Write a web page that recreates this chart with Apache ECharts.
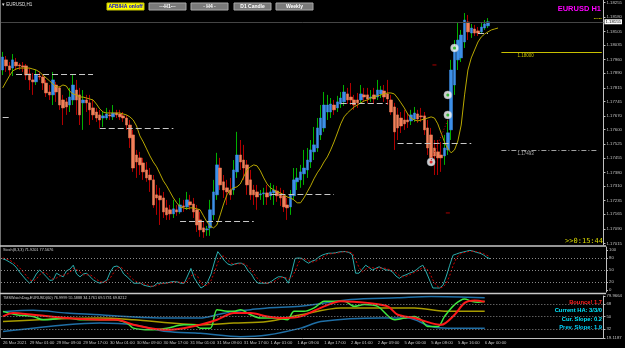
<!DOCTYPE html>
<html>
<head>
<meta charset="utf-8">
<script src="https://cdn.jsdelivr.net/npm/echarts@6/dist/echarts.min.js"></script>
<style>html,body{margin:0;padding:0;background:#000}#chart{width:625px;height:348px}</style>
</head>
<body>
<div id="chart"></div>
<script>
// EURUSD H1, one entry per hourly bar (26 Mar 17:00 .. 6 Apr 01:00)
var barOpen = [
  1.17907,1.17959,1.17928,1.17917,1.17948,1.17933,1.17928,1.17928,1.17887,1.17856,
  1.17846,1.17876,1.17871,1.17840,1.17794,1.17779,1.17830,1.17815,1.17753,1.17743,
  1.17727,1.17753,1.17804,1.17779,1.17738,1.17753,1.17738,1.17712,1.17691,1.17676,
  1.17660,1.17660,1.17676,1.17666,1.17686,1.17681,1.17671,1.17660,1.17624,1.17573,
  1.17470,1.17455,1.17429,1.17393,1.17367,1.17342,1.17265,1.17260,1.17249,1.17198,
  1.17188,1.17167,1.17188,1.17177,1.17208,1.17203,1.17229,1.17218,1.17188,1.17136,
  1.17095,1.17085,1.17095,1.17162,1.17265,1.17403,1.17332,1.17301,1.17290,1.17290,
  1.17383,1.17470,1.17444,1.17419,1.17342,1.17290,1.17280,1.17265,1.17270,1.17275,
  1.17260,1.17275,1.17285,1.17270,1.17260,1.17213,1.17203,1.17260,1.17332,1.17342,
  1.17373,1.17393,1.17434,1.17486,1.17506,1.17573,1.17609,1.17691,1.17691,1.17727,
  1.17712,1.17732,1.17743,1.17784,1.17768,1.17753,1.17753,1.17753,1.17779,1.17779,
  1.17763,1.17779,1.17768,1.17784,1.17799,1.17784,1.17753,1.17717,1.17676,1.17660,
  1.17650,1.17650,1.17645,1.17655,1.17681,1.17671,1.17671,1.17609,1.17573,1.17506,
  1.17486,1.17470,1.17465,1.17496,1.17599,1.17830,1.17959,1.17969,1.18051,1.18154,
  1.18097,1.18118,1.18108,1.18103,1.18123,1.18134
];
var barClose = [
  1.17974,1.17928,1.17907,1.17959,1.17928,1.17928,1.17923,1.17881,1.17856,1.17846,
  1.17881,1.17871,1.17840,1.17789,1.17779,1.17856,1.17794,1.17727,1.17712,1.17717,
  1.17768,1.17830,1.17753,1.17676,1.17753,1.17738,1.17702,1.17676,1.17660,1.17650,
  1.17671,1.17681,1.17671,1.17686,1.17676,1.17666,1.17660,1.17624,1.17558,1.17403,
  1.17434,1.17419,1.17383,1.17352,1.17342,1.17213,1.17249,1.17239,1.17177,1.17162,
  1.17167,1.17193,1.17177,1.17213,1.17203,1.17239,1.17213,1.17177,1.17110,1.17085,
  1.17074,1.17090,1.17188,1.17280,1.17419,1.17316,1.17290,1.17280,1.17265,1.17393,
  1.17470,1.17434,1.17403,1.17316,1.17265,1.17265,1.17254,1.17270,1.17275,1.17254,
  1.17280,1.17290,1.17260,1.17249,1.17203,1.17198,1.17265,1.17342,1.17352,1.17383,
  1.17403,1.17444,1.17496,1.17522,1.17609,1.17660,1.17727,1.17727,1.17732,1.17702,
  1.17743,1.17763,1.17794,1.17753,1.17753,1.17727,1.17738,1.17784,1.17768,1.17758,
  1.17768,1.17758,1.17804,1.17804,1.17768,1.17758,1.17691,1.17589,1.17609,1.17619,
  1.17630,1.17640,1.17676,1.17686,1.17655,1.17666,1.17599,1.17506,1.17455,1.17465,
  1.17455,1.17455,1.17506,1.17584,1.17907,1.18010,1.18061,1.18087,1.18164,1.18103,
  1.18123,1.18097,1.18097,1.18128,1.18144,1.18155
];
var barHigh = [
  1.18000,1.17979,1.17948,1.17989,1.17969,1.17943,1.17948,1.17938,1.17917,1.17892,
  1.17907,1.17897,1.17881,1.17856,1.17830,1.17897,1.17846,1.17825,1.17779,1.17763,
  1.17815,1.17881,1.17856,1.17815,1.17804,1.17779,1.17779,1.17753,1.17712,1.17702,
  1.17691,1.17712,1.17702,1.17727,1.17702,1.17702,1.17691,1.17676,1.17650,1.17599,
  1.17496,1.17486,1.17455,1.17434,1.17403,1.17367,1.17316,1.17301,1.17280,1.17239,
  1.17213,1.17239,1.17213,1.17249,1.17239,1.17280,1.17265,1.17249,1.17213,1.17177,
  1.17126,1.17105,1.17239,1.17342,1.17481,1.17455,1.17367,1.17342,1.17352,1.17444,
  1.17589,1.17547,1.17522,1.17444,1.17393,1.17316,1.17316,1.17290,1.17301,1.17316,
  1.17326,1.17316,1.17311,1.17301,1.17290,1.17249,1.17290,1.17403,1.17403,1.17419,
  1.17496,1.17506,1.17547,1.17614,1.17660,1.17727,1.17794,1.17779,1.17763,1.17753,
  1.17774,1.17794,1.17830,1.17815,1.17840,1.17779,1.17789,1.17830,1.17815,1.17815,
  1.17804,1.17815,1.17856,1.17825,1.17830,1.17856,1.17779,1.17738,1.17712,1.17691,
  1.17702,1.17686,1.17702,1.17717,1.17702,1.17712,1.17691,1.17650,1.17609,1.17547,
  1.17547,1.17537,1.17573,1.17650,1.17959,1.18061,1.18149,1.18113,1.18200,1.18190,
  1.18144,1.18139,1.18128,1.18149,1.18164,1.18174
];
var barLow = [
  1.17881,1.17897,1.17881,1.17876,1.17907,1.17907,1.17897,1.17856,1.17804,1.17779,
  1.17830,1.17856,1.17804,1.17768,1.17753,1.17727,1.17743,1.17702,1.17624,1.17676,
  1.17691,1.17727,1.17676,1.17624,1.17599,1.17691,1.17624,1.17650,1.17640,1.17609,
  1.17614,1.17650,1.17650,1.17650,1.17660,1.17650,1.17640,1.17599,1.17506,1.17383,
  1.17352,1.17367,1.17342,1.17332,1.17280,1.17198,1.17162,1.17110,1.17146,1.17136,
  1.17136,1.17146,1.17157,1.17167,1.17177,1.17188,1.17188,1.17146,1.17074,1.17049,
  1.17044,1.17054,1.17054,1.17136,1.17239,1.17290,1.17249,1.17213,1.17239,1.17265,
  1.17352,1.17393,1.17342,1.17265,1.17239,1.17213,1.17188,1.17239,1.17213,1.17213,
  1.17239,1.17213,1.17229,1.17208,1.17177,1.17136,1.17162,1.17239,1.17290,1.17301,
  1.17316,1.17352,1.17403,1.17444,1.17486,1.17547,1.17589,1.17650,1.17660,1.17676,
  1.17691,1.17712,1.17722,1.17732,1.17727,1.17702,1.17712,1.17732,1.17743,1.17738,
  1.17743,1.17732,1.17753,1.17763,1.17743,1.17727,1.17676,1.17496,1.17547,1.17583,
  1.17599,1.17609,1.17624,1.17640,1.17635,1.17640,1.17573,1.17470,1.17434,1.17367,
  1.17367,1.17383,1.17419,1.17470,1.17547,1.17779,1.17907,1.17948,1.18020,1.18061,
  1.18072,1.18082,1.18082,1.18092,1.18113,1.18123
];
// moving average (drawn shifted a few bars forward, as on the chart)
var maLine = [
  1.17815,1.17846,1.17876,1.17902,1.17912,1.17917,1.17917,1.17917,1.17917,1.17912,
  1.17907,1.17897,1.17881,1.17866,1.17851,1.17835,1.17820,1.17820,1.17830,1.17825,
  1.17799,1.17784,1.17779,1.17768,1.17768,1.17763,1.17758,1.17753,1.17732,1.17707,
  1.17691,1.17686,1.17686,1.17686,1.17686,1.17686,1.17681,1.17676,1.17666,1.17650,
  1.17619,1.17568,1.17537,1.17501,1.17465,1.17434,1.17409,1.17373,1.17337,1.17311,
  1.17280,1.17249,1.17224,1.17203,1.17198,1.17193,1.17198,1.17198,1.17193,1.17188,
  1.17157,1.17126,1.17105,1.17095,1.17110,1.17162,1.17218,1.17265,1.17290,1.17301,
  1.17306,1.17321,1.17357,1.17393,1.17409,1.17419,1.17414,1.17388,1.17352,1.17321,
  1.17301,1.17290,1.17280,1.17275,1.17265,1.17254,1.17249,1.17239,1.17224,1.17224,
  1.17249,1.17280,1.17311,1.17347,1.17378,1.17403,1.17434,1.17460,1.17496,1.17537,
  1.17583,1.17630,1.17666,1.17686,1.17702,1.17717,1.17727,1.17738,1.17748,1.17753,
  1.17763,1.17768,1.17774,1.17779,1.17784,1.17789,1.17789,1.17784,1.17763,1.17738,
  1.17712,1.17681,1.17660,1.17650,1.17645,1.17650,1.17655,1.17660,1.17666,1.17660,
  1.17630,1.17583,1.17537,1.17501,1.17481,1.17496,1.17542,1.17624,1.17779,1.17907,
  1.17969,1.18010,1.18051,1.18077,1.18092,1.18103,1.18113,1.18118,1.18123
];
// dashed level segments: price, first bar, last bar
var levelPrices = [1.17666, 1.17887, 1.17609, 1.17131, 1.17270, 1.17738, 1.17532, 1.18097];
var levelFrom   = [0, 4, 29, 53, 80, 101, 118, 142];
var levelTo     = [2, 27, 51, 75, 99, 115, 140, 145];
// lines projected right of the last bar
var targetHigh = 1.18000;
var targetLow  = 1.17493;
// signal markers
var signalBars   = [128, 133, 133, 135];
var signalPrices = [1.17434, 1.17676, 1.17779, 1.18020];
var signalColors = ['#e00000', '#10b010', '#10b010', '#10b010'];
var fractalBars   = [129, 133];
var fractalPrices = [1.17933, 1.17172];

var priceTicks = [1.17015,1.17090,1.17165,1.17235,1.17310,1.17380,1.17455,1.17525,1.17600,
  1.17670,1.17745,1.17815,1.17890,1.17960,1.18035,1.18105,1.18180,1.18255];
var timeLabels = ['26 Mar 2021','29 Mar 01:00','29 Mar 09:00','29 Mar 17:00','30 Mar 01:00',
  '30 Mar 09:00','30 Mar 17:00','31 Mar 01:00','31 Mar 09:00','31 Mar 17:00','1 Apr 01:00',
  '1 Apr 09:00','1 Apr 17:00','2 Apr 01:00','2 Apr 09:00','5 Apr 00:00','5 Apr 08:00',
  '5 Apr 16:00','6 Apr 00:00'];

// Stoch(8,3,3)
var stochMain = [
  78,75,70,65,57,45,35,25,17,25, 40,50,42,33,24,25,42,37,33,48,
  52,62,40,33,40,42,33,25,20,17, 20,25,45,58,60,55,40,33,25,17,
  17,17,12,10,8,10,17,17,17,18, 20,21,20,17,17,35,54,30,17,5,
  10,21,40,70,96,85,73,65,62,65, 67,67,62,48,40,25,17,17,17,17,
  22,28,33,33,30,17,45,79,80,79, 72,67,72,75,82,87,90,92,92,93,
  95,96,96,94,88,42,42,52,62,56, 50,54,58,54,50,50,45,35,29,35,
  38,42,45,50,57,62,45,25,5,5, 5,12,35,62,87,90,93,95,97,99,
  97,94,92,88,82,78
];
var stochSignal = [
  80,78,75,70,64,56,46,36,26,22, 27,38,44,42,33,27,30,35,37,39,
  44,54,51,45,38,38,38,33,26,21, 19,21,30,43,54,58,52,43,33,25,
  20,17,15,13,10,9,12,15,17,17, 18,20,20,19,18,23,35,40,34,17,
  11,12,24,44,69,84,85,74,67,64, 65,66,65,59,50,38,27,20,17,17,
  19,22,28,31,32,27,31,47,68,79, 77,73,70,71,76,81,86,90,91,92,
  93,95,96,95,93,75,57,45,52,57, 56,53,54,55,54,51,48,43,36,33,
  34,38,42,46,51,56,55,44,25,12, 5,7,17,36,61,80,90,93,95,97,
  97,96,94,91,87,83
];

// TMSWatchDog lines, [bar, value]
var wdUpper = [[0,57.2],[9,59.2],[19,55.3],[29,52.8],[39,49.5],[49,48.0],[59,48.0],[64,52.8],
  [69,57.7],[74,60.2],[79,62.7],[89,65.0],[104,74.8],[118,77.3],[128,79.2],[144,77.3]];
var wdLower = [[0,28.4],[19,38.2],[29,40.7],[39,38.2],[49,28.4],[59,26.0],[71,21.1],[79,23.5],
  [89,33.4],[95,43.0],[113,48.0],[121,48.0],[128,35.7],[133,33.4],[144,33.4]];
var wdMid = [[0,43.0],[29,48.0],[39,45.5],[59,38.2],[69,40.7],[79,43.0],[89,52.8],[101,62.7],
  [113,62.7],[123,62.7],[133,57.7],[144,57.7]];
var wdFast = [[0,57.7],[4,52.8],[9,50.4],[12,45.5],[19,48.0],[24,45.5],[29,45.5],[33,45.5],
  [37,40.7],[39,33.4],[44,30.9],[49,33.4],[54,38.2],[57,38.2],[59,33.4],[62,33.4],[64,60.2],
  [67,57.7],[69,57.7],[71,60.2],[74,52.8],[77,48.0],[82,48.0],[85,45.5],[87,57.7],[90,57.7],
  [93,62.7],[95,70.0],[96,72.4],[102,72.4],[105,65.0],[108,67.5],[112,65.0],[117,45.5],
  [120,48.0],[123,50.4],[125,45.5],[127,35.7],[130,35.7],[132,50.4],[135,67.5],[138,75.8],
  [140,72.4],[142,70.9],[144,72.4]];
var wdSlow = [[0,50.4],[3,55.3],[9,52.8],[19,48.0],[29,45.5],[34,45.5],[39,38.2],[44,33.4],
  [49,30.9],[54,33.4],[59,38.2],[64,45.5],[69,55.3],[74,55.3],[79,50.4],[84,48.0],[89,50.4],
  [96,65.0],[101,72.4],[109,70.0],[115,65.0],[118,52.8],[123,48.0],[128,40.7],[131,38.2],
  [135,52.8],[138,70.0],[141,73.4],[144,71.5]];

var SLOTS = 180;
var categories = [];
for (var i = 0; i < SLOTS; i++) {
  categories.push(i % 8 === 0 && timeLabels[i / 8] ? timeLabels[i / 8] : String(i));
}
var showTime = function (idx) { return idx % 8 === 0 && idx / 8 < timeLabels.length; };

var wickData = barOpen.map(function (o, i) { return [o, barClose[i], barLow[i], barHigh[i]]; });
var bodyData = barOpen.map(function (o, i) {
  return [o, barClose[i], Math.min(o, barClose[i]), Math.max(o, barClose[i])];
});
var levelLines = levelPrices.map(function (p, i) {
  return [{ coord: [levelFrom[i], p] }, { coord: [levelTo[i], p] }];
});
var lastClose = barClose[barClose.length - 1];

var axisGray = '#c0c0c0';
var font = 'Liberation Sans';
var hiddenX = function (idx) {
  return { type: 'category', gridIndex: idx, data: categories, show: false, boundaryGap: true };
};
var rightY = function (idx, min, max, ticks, fmt) {
  return {
    type: 'value', gridIndex: idx, position: 'right', min: min, max: max,
    splitLine: { show: false },
    axisLine: { show: true, lineStyle: { color: axisGray } },
    axisTick: { show: true, length: 2, customValues: ticks, lineStyle: { color: axisGray } },
    axisLabel: { customValues: ticks, formatter: fmt, color: axisGray, fontSize: 4.3,
      fontFamily: font, margin: 3 }
  };
};
var dotted = { color: '#8a8a8a', type: [1, 2], width: 1 };

var myChart = echarts.init(document.getElementById('chart'));
var option = {
  backgroundColor: '#000',
  animation: false,
  grid: [
    { left: 1, right: 19, top: 0, height: 245 },
    { left: 1, right: 19, top: 247, height: 45 },
    { left: 1, right: 19, top: 296, height: 42 }
  ],
  xAxis: [
    hiddenX(0), hiddenX(1),
    {
      type: 'category', gridIndex: 2, data: categories, boundaryGap: true,
      axisLine: { lineStyle: { color: axisGray } },
      axisTick: { interval: showTime, alignWithLabel: true, length: 2, lineStyle: { color: axisGray } },
      axisLabel: { interval: showTime, showMinLabel: true, align: 'left', color: axisGray,
        fontSize: 4.2, fontFamily: font, margin: 3 }
    }
  ],
  yAxis: [
    rightY(0, 1.17007, 1.18267, priceTicks, function (v) { return v.toFixed(5); }),
    rightY(1, -5, 107.5, [0, 20, 50, 80, 100], function (v) { return String(v); }),
    rightY(2, 19.1187, 79.9664, [19.1187, 32, 50, 68, 79.9664], function (v) {
      return Number.isInteger(v) ? String(v) : v.toFixed(4);
    })
  ],
  series: [
    {
      name: 'range', type: 'candlestick', xAxisIndex: 0, yAxisIndex: 0, data: wickData,
      barWidth: 1,
      itemStyle: { color: '#00b000', color0: '#b00000', borderColor: '#00b000',
        borderColor0: '#b00000', borderWidth: 1 }
    },
    {
      name: 'body', type: 'candlestick', xAxisIndex: 0, yAxisIndex: 0, data: bodyData,
      barWidth: 3,
      itemStyle: { color: '#3d8fe8', color0: '#f2805a', borderColor: '#3d8fe8',
        borderColor0: '#f2805a', borderWidth: 0.5 },
      markLine: {
        silent: true, symbol: ['none', 'none'], label: { show: false }, precision: 5,
        lineStyle: { color: '#c8c8c8', type: [6, 3], width: 1 },
        data: levelLines
      }
    },
    {
      name: 'MA', type: 'line', xAxisIndex: 0, yAxisIndex: 0, data: maLine, symbol: 'none',
      lineStyle: { color: '#b8a800', width: 1 },
      markLine: {
        silent: true, symbol: ['none', 'none'], precision: 5,
        data: [
          { yAxis: lastClose, lineStyle: { color: '#454545', type: 'solid', width: 1 },
            label: { show: true, position: 'end', distance: 1, formatter: lastClose.toFixed(5),
              backgroundColor: '#fff', color: '#000', fontSize: 4.3, fontFamily: font,
              padding: [1, 1, 0, 1] } },
          [{ coord: [149, targetHigh], lineStyle: { color: '#c8c000', type: 'solid', width: 1 },
             label: { show: true, formatter: targetHigh.toFixed(5), position: 'insideStartBottom',
               color: '#c8c000', fontSize: 4.5, fontFamily: font, distance: [16, 1] } },
           { coord: [179, targetHigh] }],
          [{ coord: [149, targetLow], lineStyle: { color: '#a0a0a0', type: [5, 2, 1, 2], width: 1 },
             label: { show: true, formatter: targetLow.toFixed(5), position: 'insideStartBottom',
               color: '#b0b0b0', fontSize: 4.5, fontFamily: font, distance: [16, 1] } },
           { coord: [178, targetLow] }]
        ]
      }
    },
    {
      name: 'signal', type: 'scatter', xAxisIndex: 0, yAxisIndex: 0, symbolSize: 8,
      data: signalBars.map(function (b, i) { return [b, signalPrices[i]]; }),
      itemStyle: { color: '#ffffff', borderColor: '#9ab', borderWidth: 0.5 },
      markLine: {
        silent: true, symbol: ['none', 'none'], label: { show: false }, precision: 5,
        lineStyle: { color: '#d00000', type: [1, 2], width: 1 },
        data: [[{ coord: [128, 1.17444] }, { coord: [133, 1.17650] }]]
      }
    },
    {
      name: 'signalDot', type: 'scatter', xAxisIndex: 0, yAxisIndex: 0, symbolSize: 3,
      data: signalBars.map(function (b, i) {
        return { value: [b, signalPrices[i]], itemStyle: { color: signalColors[i] } };
      })
    },
    {
      name: 'fractal', type: 'scatter', xAxisIndex: 0, yAxisIndex: 0, symbol: 'rect',
      symbolSize: [4, 1.5], itemStyle: { color: '#900000' },
      data: fractalBars.map(function (b, i) { return [b, fractalPrices[i]]; })
    },
    {
      name: 'Stoch', type: 'line', xAxisIndex: 1, yAxisIndex: 1, data: stochMain, symbol: 'none',
      lineStyle: { color: '#2aaeae', width: 1 },
      markLine: { silent: true, symbol: ['none', 'none'], label: { show: false }, lineStyle: dotted,
        data: [{ yAxis: 20 }, { yAxis: 50 }, { yAxis: 80 }] }
    },
    {
      name: 'Signal', type: 'line', xAxisIndex: 1, yAxisIndex: 1, data: stochSignal, symbol: 'none',
      lineStyle: { color: '#d00000', width: 1, type: [2, 2] }
    },
    {
      name: 'upper', type: 'line', xAxisIndex: 2, yAxisIndex: 2, data: wdUpper, symbol: 'none',
      smooth: 0.3, lineStyle: { color: '#1f6fa6', width: 1.5 },
      markLine: { silent: true, symbol: ['none', 'none'], label: { show: false }, lineStyle: dotted,
        data: [{ yAxis: 32 }, { yAxis: 50 }, { yAxis: 68 }] }
    },
    {
      name: 'lower', type: 'line', xAxisIndex: 2, yAxisIndex: 2, data: wdLower, symbol: 'none',
      smooth: 0.3, lineStyle: { color: '#1f6fa6', width: 1.5 }
    },
    {
      name: 'mid', type: 'line', xAxisIndex: 2, yAxisIndex: 2, data: wdMid, symbol: 'none',
      smooth: 0.3, lineStyle: { color: '#a89c00', width: 1.5 }
    },
    {
      name: 'fast', type: 'line', xAxisIndex: 2, yAxisIndex: 2, data: wdFast, symbol: 'none',
      smooth: 0.3, lineStyle: { color: '#3ee83e', width: 1.5 }
    },
    {
      name: 'slow', type: 'line', xAxisIndex: 2, yAxisIndex: 2, data: wdSlow, symbol: 'none',
      smooth: 0.3, lineStyle: { color: '#ff1a1a', width: 2 }
    }
  ],
  graphic: [
    { type: 'line', shape: { x1: 0.5, y1: 0, x2: 0.5, y2: 338 }, style: { stroke: '#707070', lineWidth: 1 } },
    { type: 'line', shape: { x1: 0, y1: 246, x2: 606, y2: 246 }, style: { stroke: '#c8c8c8', lineWidth: 1.5 } },
    { type: 'line', shape: { x1: 0, y1: 293.5, x2: 606, y2: 293.5 }, style: { stroke: '#c8c8c8', lineWidth: 1.5 } },
    { type: 'text', x: 2, y: 2, style: { text: '▾ EURUSD,H1', fill: '#e0e0e0', font: '4.5px "Liberation Sans"' } },
    { type: 'rect', shape: { x: 107, y: 3, width: 37, height: 7 }, style: { fill: '#ffff00', stroke: '#c8c800' } },
    { type: 'text', x: 125.5, y: 6.5, style: { text: 'AFB/HA on/off', fill: '#0000e0', align: 'center',
      verticalAlign: 'middle', font: 'bold 5px "Liberation Sans"' } },
    { type: 'rect', shape: { x: 149, y: 3, width: 37, height: 7 }, style: { fill: '#7a7a7a', stroke: '#a8a8a8' } },
    { type: 'text', x: 167.5, y: 6.5, style: { text: '---H1---', fill: '#fff', align: 'center',
      verticalAlign: 'middle', font: 'bold 5px "Liberation Sans"' } },
    { type: 'rect', shape: { x: 191, y: 3, width: 37, height: 7 }, style: { fill: '#7a7a7a', stroke: '#a8a8a8' } },
    { type: 'text', x: 209.5, y: 6.5, style: { text: '- H4 -', fill: '#fff', align: 'center',
      verticalAlign: 'middle', font: 'bold 5px "Liberation Sans"' } },
    { type: 'rect', shape: { x: 234, y: 3, width: 37, height: 7 }, style: { fill: '#7a7a7a', stroke: '#a8a8a8' } },
    { type: 'text', x: 252.5, y: 6.5, style: { text: 'D1 Candle', fill: '#fff', align: 'center',
      verticalAlign: 'middle', font: 'bold 5px "Liberation Sans"' } },
    { type: 'rect', shape: { x: 276, y: 3, width: 37, height: 7 }, style: { fill: '#7a7a7a', stroke: '#a8a8a8' } },
    { type: 'text', x: 294.5, y: 6.5, style: { text: 'Weekly', fill: '#fff', align: 'center',
      verticalAlign: 'middle', font: 'bold 5px "Liberation Sans"' } },
    { type: 'text', x: 601, y: 9, style: { text: 'EURUSD H1', fill: '#ff00ff', align: 'right',
      verticalAlign: 'middle', font: 'bold 7.5px "Liberation Sans"' } },
    { type: 'text', x: 602, y: 18.5, style: { text: '-----', fill: '#e0e000', align: 'right',
      verticalAlign: 'middle', font: 'bold 5px "Liberation Sans"' } },
    { type: 'text', x: 603, y: 241.5, style: { text: '>>0:15:44', fill: '#d8d800', align: 'right',
      verticalAlign: 'middle', font: '7px "DejaVu Sans Mono"' } },
    { type: 'text', x: 3, y: 250, style: { text: 'Stoch(8,3,3) 71.9201 77.5676', fill: '#d0d0d0',
      verticalAlign: 'middle', font: '3.8px "Liberation Sans"' } },
    { type: 'text', x: 3, y: 298, style: { text: 'TMSWatchDog-EURUSD(60) 76.9999 55.5888 34.1761 69.5731 69.8212',
      fill: '#d0d0d0', verticalAlign: 'middle', font: '3.8px "Liberation Sans"' } },
    { type: 'text', x: 602, y: 302, style: { text: 'Bounce! 1.7', fill: '#ff2020', align: 'right',
      verticalAlign: 'middle', font: 'bold 5.8px "Liberation Sans"' } },
    { type: 'text', x: 602, y: 310.5, style: { text: 'Current HA: 3/3/0', fill: '#00e8ff', align: 'right',
      verticalAlign: 'middle', font: 'bold 5.8px "Liberation Sans"' } },
    { type: 'text', x: 602, y: 319, style: { text: 'Cur. Slope: 0.2', fill: '#00e8ff', align: 'right',
      verticalAlign: 'middle', font: 'bold 5.8px "Liberation Sans"' } },
    { type: 'text', x: 602, y: 327.5, style: { text: 'Prev. Slope: 1.9', fill: '#00d4ff', align: 'right',
      verticalAlign: 'middle', font: 'bold 5.8px "Liberation Sans"' } }
  ]
};
myChart.setOption(option);
</script>
</body>
</html>
